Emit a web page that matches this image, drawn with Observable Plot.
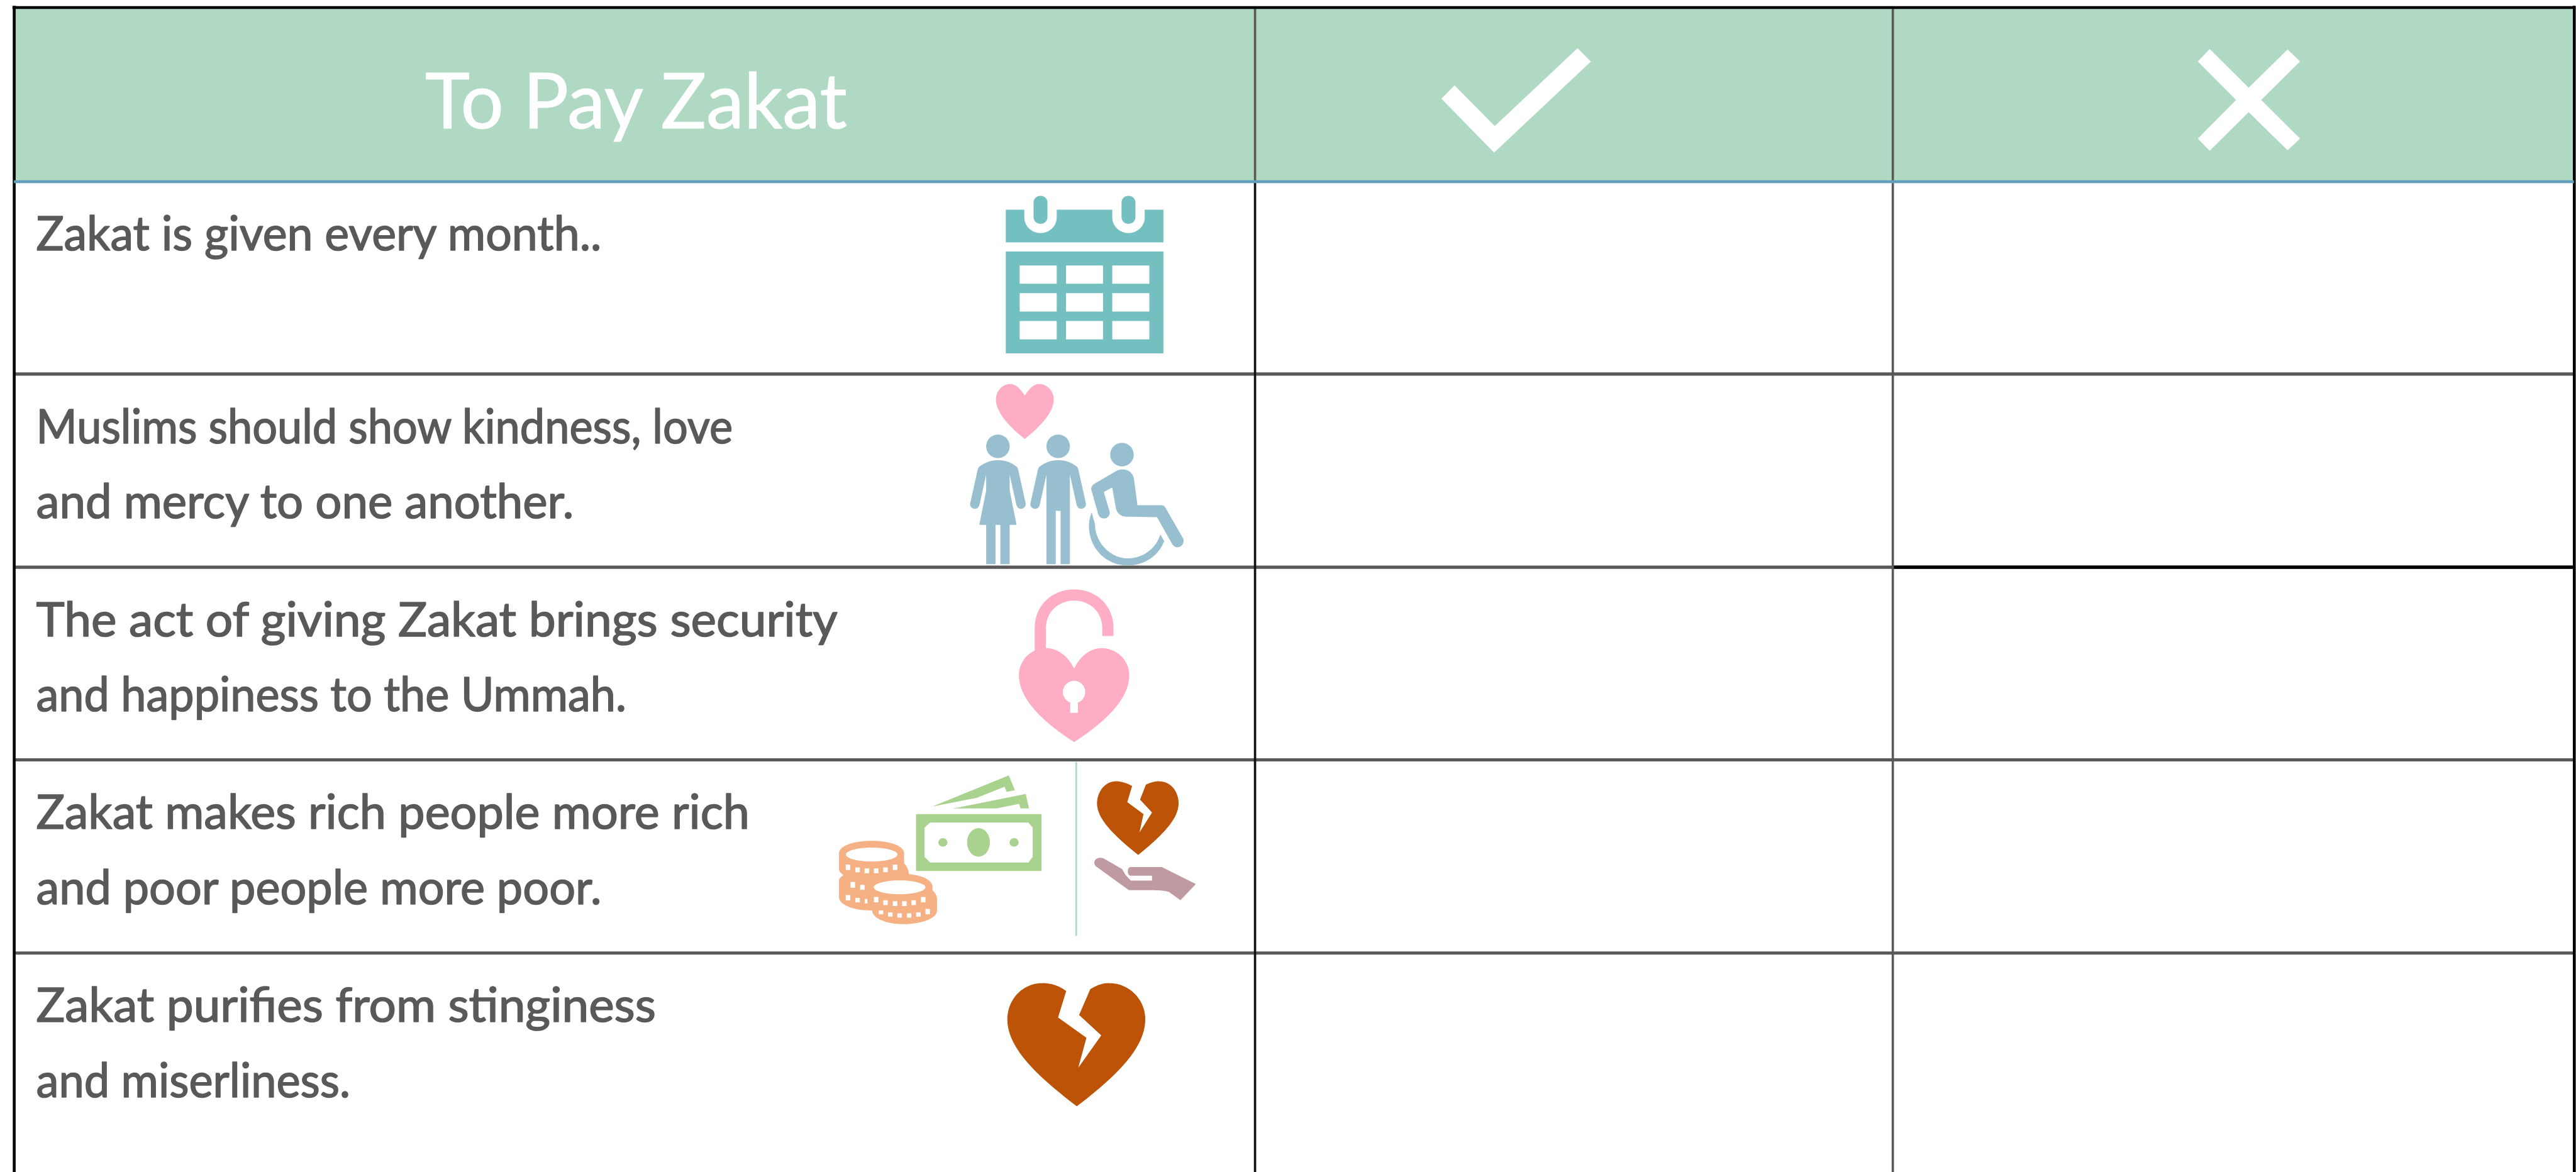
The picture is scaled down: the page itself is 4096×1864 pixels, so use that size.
<!DOCTYPE html>
<html><head><meta charset="utf-8">
<script src="https://cdn.jsdelivr.net/npm/d3@7"></script>
<script src="https://cdn.jsdelivr.net/npm/@observablehq/plot@0.6"></script>
<style>html,body{margin:0;padding:0;background:#fff;overflow:hidden}svg{display:block}</style>
</head><body><div id="chart"></div>
<script>
const header = "To Pay Zakat";
const statements = [
  ["Zakat is given every month.."],
  ["Muslims should show kindness, love","and mercy to one another."],
  ["The act of giving Zakat brings security","and happiness to the Ummah."],
  ["Zakat makes rich people more rich","and poor people more poor."],
  ["Zakat purifies from stinginess","and miserliness."]
];
// table geometry in the reference's pixels
const refW = 4451, refH = 2026, k = 0.92;
const rowLines = [646,980,1313,1647];
const colLines = [2168,3270];
const leftEdge = 24, rightEdge = 4447.5;
const lineWidths = [[977],[1204,929],[1385,1020],[1233,977],[1071,543]];

// helpers: trace shapes as paths in zoom-crop pixels, mapped to reference pixels
function samplePath(d){
  const t=d.match(/[MLCZ]|-?\d+(\.\d+)?/g); let i=0,p=[0,0];const o=[];const n=()=>+t[i++];
  while(i<t.length){const c=t[i++];
    if(c==="M"||c==="L"){p=[n(),n()];o.push(p);
      while(i<t.length&&!/[A-Z]/.test(t[i])){p=[n(),n()];o.push(p);}}
    else if(c==="C"){while(i<t.length&&!/[A-Z]/.test(t[i])){const a=[n(),n()],b=[n(),n()],e=[n(),n()];
      for(let s=1;s<=24;s++){const u=s/24,v=1-u;
        o.push([v*v*v*p[0]+3*v*v*u*a[0]+3*v*u*u*b[0]+u*u*u*e[0],v*v*v*p[1]+3*v*v*u*a[1]+3*v*u*u*b[1]+u*u*u*e[1]]);}
      p=e;}}
    else if(c==="Z"){o.push(o[0]);}
  }
  return o;
}
const ell=(cx,cy,rx,ry)=>d3.range(0,73).map(a=>[cx+rx*Math.cos(a*Math.PI/36),cy+ry*Math.sin(a*Math.PI/36)]);
const rec=(x0,y0,x1,y1)=>[[x0,y0],[x1,y0],[x1,y1],[x0,y1],[x0,y0]];
const crop=(ox,oy,sx,sy)=>pts=>pts.map(([x,y])=>({x:ox+x/sx,y:oy+y/sy}));
const shape=(pts,fill)=>Plot.line(pts,{x:"x",y:"y",fill,stroke:"none",curve:"linear"});
const P=samplePath;

const teal="#74c0c0",pink="#ffadc4",blue="#98bfd0",green="#aad28f",peach="#f5b183",rust="#bd5306",mauve="#bf9aa0",W="#fff";

const mc=crop(1680,300,3,3);
const calendar=[
 [rec(172,186,989,355),teal],[rec(172,403,989,931),teal],
 ...[352,808].flatMap(x=>[
   [P(`M${x-84} 180 L${x+84} 180 L${x+84} 225 C${x+84} 272 ${x+46} 307 ${x} 307 C${x-46} 307 ${x-84} 272 ${x-84} 225 Z`),W],
   [P(`M${x-36} 150 C${x-36} 128 ${x-20} 114 ${x} 114 C${x+20} 114 ${x+36} 128 ${x+36} 150 L${x+36} 223 C${x+36} 245 ${x+20} 259 ${x} 259 C${x-20} 259 ${x-36} 245 ${x-36} 223 Z`),teal]]),
 ...[244,484,724].flatMap(x=>[475,619,763].map(y=>[rec(x,y,x+192,y+95),W]))
].map(([p,f])=>shape(mc(p),f));

const pc=crop(1550,600,2.613,3);
const people=[
 [P("M575 250 C550 205 530 190 510 190 C475 190 445 225 445 270 C445 340 510 415 575 475 C640 415 706 340 706 270 C706 225 675 190 640 190 C620 190 600 205 575 250 Z"),pink],
 [ell(454,513,53,61),blue],[ell(726,513,53,61),blue],[ell(1014,556,53,61),blue],
 [P("M368 620 C400 592 430 585 454 585 C480 585 510 592 540 620 L545 632 L579 808 C582 825 570 837 558 837 C548 837 540 830 537 815 L507 660 L507 742 L538 920 L507 920 L507 1124 L465 1124 L465 920 L443 920 L443 1124 L401 1124 L401 920 L370 920 L401 742 L401 660 L371 815 C368 830 360 837 350 837 C337 837 326 825 329 808 L363 632 Z"),blue],
 [P("M640 620 C672 592 702 585 726 585 C752 585 782 592 812 620 L817 632 L851 808 C854 825 842 837 830 837 C820 837 812 830 809 815 L779 660 L779 1124 L737 1124 L737 848 L715 848 L715 1124 L673 1124 L673 660 L643 815 C640 830 632 837 622 837 C609 837 598 825 601 808 L635 632 Z"),blue],
 [P("M990 640 C1030 620 1062 645 1068 680 L1084 818 L1190 818 C1200 818 1208 825 1212 835 L1290 990 C1298 1010 1285 1036 1265 1036 C1252 1036 1245 1028 1240 1018 L1172 880 L1040 878 C1010 880 990 860 986 830 L970 726 L932 750 L958 850 C962 870 950 887 932 887 C918 887 910 875 907 865 L876 740 C873 725 880 715 890 707 Z"),blue],
 [P("M877 855 L892 915 C892 1010 960 1094 1040 1094 C1110 1094 1170 1040 1187 970 L1205 1004 C1180 1080 1115 1131 1040 1131 C940 1131 865 1040 865 925 C865 900 870 880 877 855 Z"),blue]
].map(([p,f])=>shape(pc(p),f));

const lc=crop(1700,1000,3,3);
const lock=[
 [P("M262 385 L262 255 C262 135 355 55 466 55 C578 55 670 135 670 255 L670 297 L612 297 L612 255 C612 170 545 113 466 113 C388 113 320 170 320 255 L320 385 Z"),pink],
 [P("M466 465 C430 395 375 358 320 360 C240 360 180 425 180 500 C180 640 340 765 466 847 C592 765 752 640 752 500 C752 425 690 360 610 360 C555 358 502 395 466 465 Z"),pink],
 [ell(466,587,58,58),W],[rec(446,620,486,695),W]
].map(([p,f])=>shape(lc(p),f));

const cc=crop(1400,1290,2.178,3);
const tick=(x,y0,y1,w=17)=>[rec(x-w/2,y0,x+w/2,y1),W];
const money=[
 [P("M746 150 L769 226 L738 235 L730 208 L625 266 L458 311 Z"),green],
 [P("M810 246 L822 321 L790 321 L785 297 L700 321 L537 321 Z"),green],
 [rec(397,350,869,645),green],
 [P("M450 394 L820 394 L836 420 L836 572 L820 601 L450 601 L429 572 L429 420 Z"),W],
 [ell(632,497,43,74),green],[ell(498,497,17,22),green],[ell(766,497,17,22),green],
 [P("M107 555 C107 510 170 489 230 489 C290 489 352 510 352 555 L352 605 C362 620 370 640 370 665 L370 720 L240 850 L230 850 C150 850 107 815 107 780 L107 695 C107 683 115 675 124 667 C112 655 107 645 107 630 Z"),peach],
 [P("M232 730 C232 680 290 660 345 660 C405 660 459 685 459 730 L459 745 C470 760 476 775 476 790 L476 850 C476 895 410 921 350 921 C285 921 232 890 232 850 L232 790 Z"),peach],
 [ell(230,560,97,36),W],[ell(335,730,97,36),W],
 tick(141,612,640),tick(177,627,652),tick(212,632,657),tick(247,632,657),tick(282,627,652),tick(318,612,640),
 tick(159,702,732),tick(195,717,743),
 tick(141,770,798),tick(177,785,808),tick(209,790,814,10),
 tick(247,780,808),tick(282,797,822),tick(318,802,827),tick(353,802,827),tick(388,797,822),tick(424,780,808),
 tick(265,850,870),tick(300,860,882),tick(335,865,887),tick(371,865,887),tick(406,860,882),tick(441,842,870),
 [P("M1210 205 C1190 188 1165 180 1150 180 C1105 180 1078 240 1078 295 C1078 380 1150 470 1233 562 C1315 470 1385 380 1385 295 C1385 240 1360 180 1310 180 C1295 180 1275 188 1262 198 L1240 275 L1285 342 L1238 445 L1253 350 L1192 288 Z"),rust],
 [P("M1068 600 C1068 580 1090 570 1105 582 L1172 635 L1185 665 L1205 695 L1285 695 L1285 670 L1205 670 C1190 670 1190 625 1205 625 L1322 625 L1450 713 L1392 797 L1350 755 C1330 745 1300 745 1280 745 L1198 745 L1078 625 C1070 618 1068 610 1068 600 Z"),mauve]
].map(([p,f])=>shape(cc(p),f));

const hc=crop(1680,1660,3,3);
const bigHeart=shape(hc(P("M485 158 C450 130 400 115 360 117 C260 117 180 200 180 305 C180 460 350 610 540 756 C730 610 895 460 895 305 C895 200 810 117 710 117 C675 115 640 130 610 148 L552 282 L667 388 L548 555 L590 400 L443 295 Z")),rust);

const hdc=crop(2400,0,0.922,3);
const check=shape(hdc([[104,441],[83,510],[167,790],[321,318],[300,248],[168,652],[104,441]]),W);
const cross=shape(hdc([[1307,253],[1369,453],[1431,255],[1451,317],[1389,517],[1451,717],[1431,778],[1369,580],[1307,780],[1288,717],[1349,517],[1288,317],[1307,253]]),W);

// text rows
const textRows=statements.flatMap((lines,i)=>lines.map((t,j)=>({t,w:lineWidths[i][j],y:432+333.5*i+130*j})));
const sw=v=>v*k;

const chart=Plot.plot({
  width:4096,height:1864,margin:0,
  x:{domain:[0,refW],range:[0,4096],axis:null},
  y:{domain:[0,refH],range:[0,1864],axis:null},
  marks:[
    Plot.rect([0],{x1:()=>leftEdge,x2:()=>rightEdge,y1:()=>12,y2:()=>313,fill:"#b0d9c3"}),
    // horizontal rules
    Plot.ruleY(rowLines,{x1:leftEdge,x2:rightEdge,stroke:"#595959",strokeWidth:sw(5.5)}),
    Plot.ruleY([rowLines[1]],{x1:colLines[1],x2:rightEdge,stroke:"#000",strokeWidth:sw(5.5)}),
    // vertical rules
    Plot.ruleX([colLines[0]],{y1:313,y2:refH,stroke:"#111",strokeWidth:sw(4)}),
    Plot.ruleX([colLines[1]],{y1:313,y2:refH,stroke:"#595959",strokeWidth:sw(4)}),
    Plot.ruleX(colLines,{y1:12,y2:313,stroke:"#595959",strokeWidth:sw(4)}),
    Plot.ruleX([leftEdge,rightEdge],{y1:10,y2:refH,stroke:"#000",strokeWidth:sw(5)}),
    Plot.ruleY([313.5],{x1:leftEdge,x2:rightEdge,stroke:"#5f9fbc",strokeWidth:sw(5)}),
    Plot.ruleY([12.5],{x1:leftEdge-2.5,x2:rightEdge+2.5,stroke:"#000",strokeWidth:sw(5)}),
    // icons
    ...calendar,...people,...lock,...money,bigHeart,check,cross,
    Plot.ruleX([1859],{y1:1317,y2:1618,stroke:"#afd9c4",strokeWidth:sw(3)}),
    // text
    Plot.text([header],{x:()=>734,y:()=>221,text:d=>d,fill:"#fff",stroke:"#fff",strokeWidth:1.2,fontSize:122,fontFamily:"Lato",fontWeight:400,textAnchor:"start",lineAnchor:"bottom",className:"hd"}),
    Plot.text(textRows,{x:()=>62,y:"y",text:"t",fill:"#595959",stroke:"#595959",strokeWidth:1.6,fontSize:76,fontFamily:"Lato",fontWeight:400,textAnchor:"start",lineAnchor:"bottom",className:"rw"})
  ]
});
document.getElementById("chart").append(chart);
// fit each line to its measured width in the reference
d3.select(chart).selectAll("g.rw text").each(function(d,i){
  this.setAttribute("textLength",textRows[i].w*k);this.setAttribute("lengthAdjust","spacingAndGlyphs");});
d3.select(chart).selectAll("g.hd text").each(function(){
  this.setAttribute("textLength",729*k);this.setAttribute("lengthAdjust","spacingAndGlyphs");});
</script></body></html>
